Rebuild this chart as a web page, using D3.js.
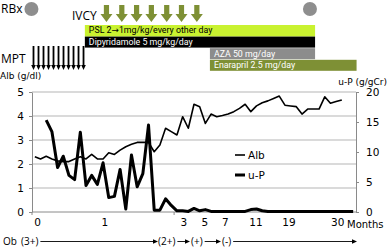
<!DOCTYPE html>
<html>
<head>
<meta charset="utf-8">
<script src="https://cdnjs.cloudflare.com/ajax/libs/d3/7.8.5/d3.min.js"></script>
<style>
  body { margin: 0; background: #fff; }
  svg text { fill: #000; }
</style>
</head>
<body>
<div id="chart"></div>
<script>
// Alb (g/dl), one value per visit, left axis
var albValues = [2.30, 2.21, 2.32, 2.21, 2.13, 2.10, 2.10, 2.21, 2.30, 2.21,
                 2.40, 2.21, 2.21, 2.47, 2.40, 2.58, 2.72, 2.82, 2.90, 2.90,
                 2.90, 2.51, 2.79, 3.49, 3.35, 3.21, 3.97, 3.49, 4.49, 4.39,
                 3.69, 4.08, 3.97, 4.02, 4.08, 4.18, 4.32, 4.49, 4.18, 4.42,
                 4.55, 4.63, 4.73, 4.83, 4.45, 4.42, 4.39, 4.08, 4.29, 4.29,
                 4.29, 4.80, 4.53, 4.60, 4.67];
// u-P (g/gCr), right axis; first two visits have no value
var upValues = [null, null, 15.3, 13.4, 7.4, 9.3, 6.1, 5.4, 13.3, 4.4,
                6.1, 4.6, 8.2, 2.4, 2.6, 7.1, 0.5, 9.5, 4.2, 6.4,
                14.5, 0.3, 0.3, 2.2, 1.1, 0.2, 0.2, 0.1, 0.6, 0.2,
                0.4, 0.1, 0.1, 0.1, 0.1, 0.1, 0.1, 0.1, 0.4, 0.5,
                0.2, 0.1, 0.1, 0.1, 0.1, 0.1, 0.1, 0.1, 0.1, 0.1,
                0.1, 0.1, 0.1, 0.1, 0.1, 0.1, 0.1];
var nVisits = 57;

var leftTicks = [0, 1, 2, 3, 4, 5];
var rightTicks = [0, 5, 10, 15, 20];
var monthLabels = ["0", "1", "3", "5", "7", "11", "19", "30"];
var monthAt = [0.5, 12.3, 26.2, 29.9, 33.5, 38.9, 44.7, 53.3];   // visit index under each label

// treatments on the same visit timeline
var treatments = [
  {name: "PSL 2\u21921mg/kg/every other day", start: 9.3, end: 49.8, fill: "#c9f230", text: "#000"},
  {name: "Dipyridamole 5 mg/kg/day", start: 9.3, end: 49.8, fill: "#000000", text: "#fff"},
  {name: "AZA 50 mg/day", start: 31.3, end: 49.8, fill: "#8c8c8c", text: "#fff"},
  {name: "Enarapril 2.5 mg/day", start: 31.3, end: 57.1, fill: "#7e9035", text: "#fff"}
];
var ivcyAt = [13.1, 15.8, 18.4, 21.0, 23.7, 26.3, 29.0];
var mptAt = [0, 0.88, 1.76, 2.64, 3.52, 4.4, 5.28, 6.16, 7.04, 7.92, 8.8];
var rbxAt = [-0.1, 48.9];
var obSteps = ["(3+)", "(2+)", "(+)", "(-)"];

var W = 388, H = 248;
var svg = d3.select("#chart").append("svg")
    .attr("width", W)
    .attr("height", H)
    .style("font-family", "'DejaVu Sans', sans-serif");

var x = d3.scaleBand().domain(d3.range(nVisits)).range([32, 356]);
var t = d3.scaleLinear().domain([0, nVisits]).range([32, 356]);
var yL = d3.scaleLinear().domain([0, 5]).range([212, 92]);
var yR = d3.scaleLinear().domain([0, 20]).range([212, 92]);
var cx = function(i) { return x(i) + x.bandwidth() / 2; };

// grid
svg.append("g").selectAll("line")
  .data(leftTicks.filter(function(d) { return d > 0; }))
  .enter().append("line")
    .attr("x1", 32).attr("x2", 356)
    .attr("y1", function(d) { return yL(d); })
    .attr("y2", function(d) { return yL(d); })
    .attr("stroke", "#b5b5b5")
    .attr("stroke-width", 1);

// axes
var gl = svg.append("g").attr("transform", "translate(32,0)")
  .call(d3.axisLeft(yL).tickValues(leftTicks).tickFormat(d3.format("d"))
    .tickSize(3).tickSizeOuter(0).tickPadding(5));
var gr = svg.append("g").attr("transform", "translate(356,0)")
  .call(d3.axisRight(yR).tickValues(rightTicks).tickFormat(d3.format("d"))
    .tickSize(3).tickSizeOuter(0).tickPadding(7));
[gl, gr].forEach(function(g) {
  g.select(".domain").attr("stroke", "#8a8a8a");
  g.selectAll(".tick line").attr("stroke", "#8a8a8a");
  g.selectAll(".tick text").style("font-family", "'DejaVu Sans', sans-serif").style("font-size", "10.5px").attr("fill", "#000");
});

svg.append("line").attr("x1", 32).attr("x2", 356).attr("y1", 212).attr("y2", 212)
  .attr("stroke", "#8a8a8a");
svg.selectAll(".xtick").data([0, 25]).enter().append("line")
  .attr("x1", function(d) { return t(d); }).attr("x2", function(d) { return t(d); })
  .attr("y1", 212).attr("y2", 215).attr("stroke", "#8a8a8a");

svg.selectAll(".month").data(monthLabels).enter().append("text")
  .attr("x", function(d, i) { return cx(0) + (monthAt[i]) * x.bandwidth(); })
  .attr("y", 226)
  .attr("text-anchor", "middle")
  .style("font-size", "10.5px")
  .text(function(d) { return d; });
svg.append("text").attr("x", 347).attr("y", 228).style("font-size", "10px").text("Months");

svg.append("text").attr("x", 0).attr("y", 79).style("font-size", "9px").text("Alb (g/dl)");
svg.append("text").attr("x", 387).attr("y", 85).attr("text-anchor", "end").style("font-size", "9px").text("u-P (g/gCr)");

// series
var line = d3.line()
  .defined(function(d) { return d != null; })
  .x(function(d, i) { return cx(i); });

svg.append("path").datum(albValues)
  .attr("fill", "none").attr("stroke", "#000").attr("stroke-width", 1.6).attr("stroke-linejoin", "round")
  .attr("d", line.y(function(d) { return yL(d); }));
svg.append("path").datum(upValues)
  .attr("fill", "none").attr("stroke", "#000").attr("stroke-width", 3).attr("stroke-linejoin", "round")
  .attr("d", line.y(function(d) { return yR(d); }));

// legend
var legend = svg.append("g").selectAll("g").data([["Alb", 1.6], ["u-P", 3]]).enter().append("g")
  .attr("transform", function(d, i) { return "translate(235," + (155 + i * 20) + ")"; });
legend.append("line").attr("x1", 0).attr("x2", 10).attr("stroke", "#000")
  .attr("stroke-width", function(d) { return d[1]; });
legend.append("text").attr("x", 13).attr("y", 4).style("font-size", "10.5px")
  .text(function(d) { return d[0]; });

// treatment timeline on top
var rx = svg.append("g").style("font-family", "'Open Sans', sans-serif");

rx.append("text").attr("x", 1).attr("y", 13).style("font-size", "12px").text("RBx");
rx.selectAll("circle").data(rbxAt).enter().append("circle")
  .attr("cx", function(d) { return t(d); }).attr("cy", 9).attr("r", 7).attr("fill", "#8e8e8e");

rx.append("text").attr("x", 72).attr("y", 20).style("font-size", "12px").text("IVCY");
rx.selectAll(".ivcy").data(ivcyAt).enter().append("path")
  .attr("fill", "#7e9035")
  .attr("d", function(d) {
    var c = t(d);
    return "M" + (c - 2.6) + ",5 H" + (c + 2.6) + " V14 H" + (c + 6) + " L" + c + ",22 L" + (c - 6) + ",14 H" + (c - 2.6) + " Z";
  });

var rowStep = 11.6, rowH = 11;
var rows = rx.selectAll(".row").data(treatments).enter().append("g")
  .attr("transform", function(d, i) { return "translate(0," + (25 + i * rowStep) + ")"; });
rows.append("rect")
  .attr("x", function(d) { return t(d.start); })
  .attr("width", function(d) { return t(d.end) - t(d.start); })
  .attr("height", function(d, i) { return i === 0 ? rowStep : rowH; })
  .attr("fill", function(d) { return d.fill; });
rows.append("text")
  .attr("x", function(d) { return t(d.start) + 4; })
  .attr("y", 8.4)
  .style("font-family", "Roboto, sans-serif")
  .style("font-size", "8.8px")
  .style("fill", function(d) { return d.text; })
  .each(function(d) {
    var el = d3.select(this);
    var parts = d.name.split("\u2192");
    parts.forEach(function(p, i) {
      el.append("tspan").text(p);
      if (i < parts.length - 1) {
        el.append("tspan").style("font-family", "'DejaVu Sans', sans-serif").text("\u2192");
      }
    });
  });

rx.append("text").attr("x", 1).attr("y", 63).style("font-size", "12px").text("MPT");
rx.selectAll(".mpt").data(mptAt).enter().append("path")
  .attr("fill", "#000")
  .attr("d", function(d) {
    var c = t(d) + 1.5;
    return "M" + (c - 0.9) + ",46 H" + (c + 0.9) + " V65 H" + (c + 2.3) + " L" + c + ",70 L" + (c - 2.3) + ",65 H" + (c - 0.9) + " Z";
  });

// Ob row
var ob = svg.append("g").style("font-family", "'Open Sans', sans-serif").style("font-size", "10px");
ob.append("text").attr("x", 3).attr("y", 245).text("Ob");
var obX = [21, 158, 191, 222];
var arrowTo = [158, 190, 221, 357];
var textEnds = [];
ob.selectAll(".st").data(obSteps).enter().append("text")
  .attr("x", function(d, i) { return obX[i]; })
  .attr("y", 245)
  .text(function(d) { return d; })
  .each(function() { var b = this.getBBox(); textEnds.push(b.x + b.width); });
textEnds.forEach(function(x0, i) {
  var x1 = arrowTo[i];
  ob.append("line").attr("x1", x0 + 2).attr("x2", x1 - 4).attr("y1", 241.5).attr("y2", 241.5)
    .attr("stroke", "#000").attr("stroke-width", 0.9);
  ob.append("path").attr("d", "M" + (x1 - 5) + ",239.3 L" + x1 + ",241.5 L" + (x1 - 5) + ",243.7 Z").attr("fill", "#000");
});
</script>
</body>
</html>
